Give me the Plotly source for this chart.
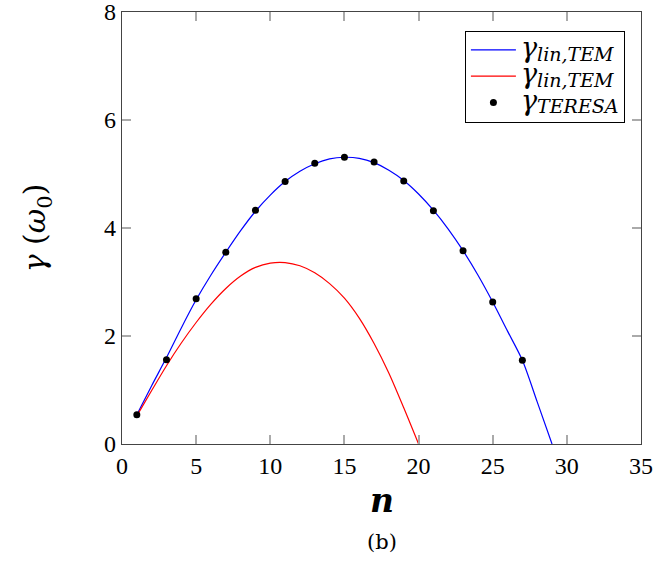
import plotly.graph_objects as go

# curva azul (gamma lin, TEM)
n_blue = list(range(1, 30))
g_blue = [0.54, 1.08, 1.60, 2.15, 2.67, 3.13, 3.55, 3.95, 4.31, 4.61,
          4.86, 5.05, 5.19, 5.28, 5.31, 5.29, 5.21, 5.07, 4.88, 4.63,
          4.33, 3.98, 3.58, 3.13, 2.63, 2.09, 1.55, 0.78, 0.00]

# curva vermelha (gamma lin, TEM)
n_red = list(range(1, 21))
g_red = [0.52, 0.99, 1.45, 1.87, 2.25, 2.59, 2.88, 3.11, 3.27, 3.35,
         3.36, 3.30, 3.17, 2.97, 2.70, 2.33, 1.86, 1.31, 0.67, 0.00]

# pontos TERESA
n_ter = [1, 3, 5, 7, 9, 11, 13, 15, 17, 19, 21, 23, 25, 27]
g_ter = [0.54, 1.56, 2.69, 3.55, 4.33, 4.86, 5.20, 5.31, 5.22, 4.87,
         4.32, 3.58, 2.63, 1.55]

x_ticks = [0, 5, 10, 15, 20, 25, 30, 35]
y_ticks = [0, 2, 4, 6, 8]

serif = "DejaVu Serif"
tick_font = "Liberation Serif"


def nome(sub):
    # gamma grande com subscrito em italico
    return ("<i><span style='font-size:27px'>γ</span>"
            f"<sub><span style='font-size:19px'>{sub}</span></sub></i>")


fig = go.Figure()
fig.add_trace(go.Scatter(x=n_blue, y=g_blue, mode='lines',
                         line=dict(color='blue', width=1.2, shape='spline', smoothing=0.8),
                         name=nome('lin,TEM')))
fig.add_trace(go.Scatter(x=n_red, y=g_red, mode='lines',
                         line=dict(color='red', width=1.2, shape='spline', smoothing=0.8),
                         name=nome('lin,TEM')))
fig.add_trace(go.Scatter(x=n_ter, y=g_ter, mode='markers', marker=dict(color='black', size=7),
                         name=nome('TERESA')))

axis_common = dict(showgrid=False, zeroline=False, showline=True, linecolor='#444', linewidth=1.2,
                   mirror='ticks', ticks='inside', ticklen=9, tickcolor='#aaa', tickwidth=1.5,
                   automargin=False, ticklabeloverflow='allow',
                   tickfont=dict(family=tick_font, size=24, color='black'))

fig.update_layout(
    width=654, height=563,
    margin=dict(l=122, r=13, t=12, b=119),
    plot_bgcolor='white', paper_bgcolor='white',
    font=dict(family=serif, color='black'),
    xaxis=dict(range=[0, 35], tickvals=x_ticks, **axis_common),
    yaxis=dict(range=[0, 8], tickvals=y_ticks, **axis_common),
    legend=dict(x=0.969, y=0.957, xanchor='right', yanchor='top', bordercolor='black', borderwidth=1,
                bgcolor='white', font=dict(family=serif, size=18), tracegroupgap=0, itemwidth=45),
    showlegend=True,
)

# titulos dos eixos e legenda (b)
fig.add_annotation(text='<b><i>n</i></b>', xref='paper', yref='paper', x=0.5, y=-0.13,
                   yanchor='middle', showarrow=False, font=dict(family=serif, size=33))
fig.add_annotation(text='<i>γ</i> (<i>ω</i><sub>0</sub>)', xref='paper', yref='paper', x=-0.165, y=0.5,
                   xanchor='center', yanchor='middle', textangle=-90, showarrow=False,
                   font=dict(family=serif, size=30))
fig.add_annotation(text='(b)', xref='paper', yref='paper', x=0.5, y=-0.228, yanchor='middle',
                   showarrow=False, font=dict(family=serif, size=21))

# sem margem no body para a figura caber na janela
fig.write_html("out.html", config={'displayModeBar': False},
               post_script="document.body.style.margin='0';document.body.style.overflow='hidden';")
